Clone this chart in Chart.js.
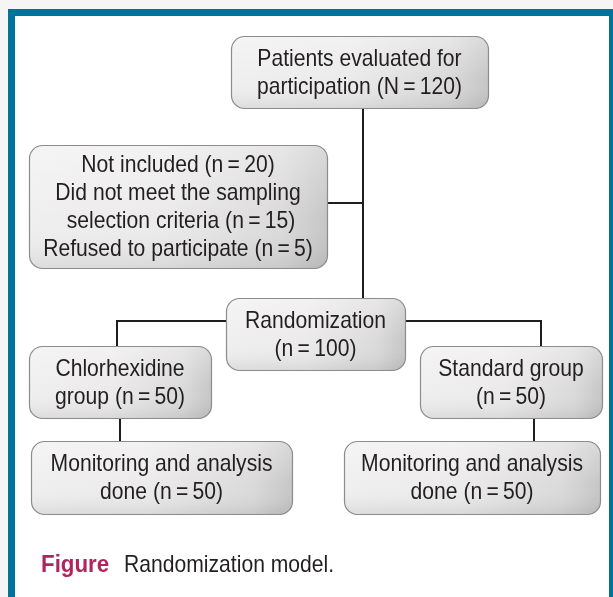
<!DOCTYPE html>
<html><head><meta charset="utf-8">
<script src="https://cdn.jsdelivr.net/npm/chart.js@4.4.1/dist/chart.umd.min.js"></script>
<style>html,body{margin:0;padding:0;background:#f5f5f5;}canvas{display:block}</style>
</head><body><canvas id="c" width="613" height="597"></canvas>
<script>
// ---- data ----
const stages = ['Patients evaluated', 'Not included', 'Did not meet sampling criteria', 'Refused to participate',
                'Randomization', 'Chlorhexidine group', 'Standard group', 'Monitoring (chlorhexidine)', 'Monitoring (standard)'];
const counts = [120, 20, 15, 5, 100, 50, 50, 50, 50];
const eq = '\u2009=\u2009';
const boxTexts = [
  ['Patients evaluated for', 'participation (N' + eq + counts[0] + ')'],
  ['Not included (n' + eq + counts[1] + ')', 'Did not meet the sampling', ' selection criteria (n' + eq + counts[2] + ')', 'Refused to participate (n' + eq + counts[3] + ')'],
  ['Randomization', '(n' + eq + counts[4] + ')'],
  ['Chlorhexidine', 'group (n' + eq + counts[5] + ')'],
  ['Standard group', '(n' + eq + counts[6] + ')'],
  ['Monitoring and analysis', 'done (n' + eq + counts[7] + ')'],
  ['Monitoring and analysis', 'done (n' + eq + counts[8] + ')']
];
const captionLabel = 'Figure';
const captionText = 'Randomization model.';

// ---- layout (chart units) ----
const boxX0 = [231, 29, 226, 29, 420, 31, 344];
const boxX1 = [488, 327, 405, 211, 602, 292, 600];
const boxY0 = [36, 145, 298, 346, 346, 441, 441];
const boxY1 = [108, 268, 370, 418, 418, 514, 514];

const trunkX = 363, branchY = 321, sideY = 203;
const connectors = [
  [{x: trunkX, y: boxY1[0]}, {x: trunkX, y: boxY0[2]}],
  [{x: boxX1[1], y: sideY}, {x: trunkX, y: sideY}],
  [{x: boxX0[2], y: branchY}, {x: 117, y: branchY}, {x: 117, y: boxY0[3]}],
  [{x: boxX1[2], y: branchY}, {x: 541, y: branchY}, {x: 541, y: boxY0[4]}],
  [{x: 120, y: boxY1[3]}, {x: 120, y: boxY0[5]}],
  [{x: 534, y: boxY1[4]}, {x: 534, y: boxY0[6]}]
];

const FONT = '"Liberation Sans", Arial, Helvetica, sans-serif';

function narrowText(ctx, t, x, y, align, sx) {
  ctx.save();
  ctx.translate(x, y);
  ctx.scale(sx, 1);
  ctx.textAlign = align;
  ctx.fillText(t, 0, 0);
  ctx.restore();
}

const framePlugin = {
  id: 'frame',
  beforeDraw(chart) {
    const ctx = chart.ctx;
    ctx.save();
    ctx.fillStyle = '#f5f5f5';
    ctx.fillRect(0, 0, chart.width, chart.height);
    ctx.fillStyle = '#00739a';
    ctx.fillRect(8, 9, chart.width - 8, chart.height - 9);
    ctx.fillStyle = '#ffffff';
    ctx.fillRect(15, 16, chart.width - 4 - 15, chart.height - 16);
    ctx.restore();
  }
};

const boxPlugin = {
  id: 'boxes',
  afterDatasetsDraw(chart) {
    const ctx = chart.ctx, xs = chart.scales.x, ys = chart.scales.y;
    ctx.save();
    for (let i = 0; i < boxTexts.length; i++) {
      const x0 = xs.getPixelForValue(boxX0[i]), x1 = xs.getPixelForValue(boxX1[i]);
      const y0 = ys.getPixelForValue(boxY0[i]), y1 = ys.getPixelForValue(boxY1[i]);
      const w = x1 - x0, h = y1 - y0;
      ctx.beginPath();
      ctx.roundRect(x0 + 0.5, y0 + 0.5, w, h, 13);
      const g = ctx.createLinearGradient(x0, 0, x1, 0);
      g.addColorStop(0, '#efefef');
      g.addColorStop(0.45, '#ebebeb');
      g.addColorStop(0.85, '#dadada');
      g.addColorStop(1, '#c6c6c6');
      ctx.fillStyle = g;
      ctx.fill();
      const gv = ctx.createLinearGradient(0, y0, 0, y1);
      gv.addColorStop(0, 'rgba(255,255,255,0.35)');
      gv.addColorStop(0.6, 'rgba(255,255,255,0)');
      gv.addColorStop(1, 'rgba(0,0,0,0.08)');
      ctx.fillStyle = gv;
      ctx.fill();
      ctx.lineWidth = 1.2;
      ctx.strokeStyle = '#8c8c8c';
      ctx.stroke();
      const lines = boxTexts[i];
      const lh = 28;
      ctx.fillStyle = '#231f20';
      ctx.font = '24px ' + FONT;
      ctx.textBaseline = 'middle';
      const mid = (y0 + y1) / 2;
      lines.forEach((t, k) => {
        narrowText(ctx, t, (x0 + x1) / 2, mid + (k - (lines.length - 1) / 2) * lh + 1, 'center', 0.88);
      });
    }
    // caption
    ctx.textBaseline = 'alphabetic';
    ctx.font = 'bold 24px ' + FONT;
    ctx.fillStyle = '#b3245f';
    narrowText(ctx, captionLabel, 41, 572, 'left', 0.93);
    ctx.font = '24px ' + FONT;
    ctx.fillStyle = '#231f20';
    narrowText(ctx, captionText, 124, 572, 'left', 0.88);
    ctx.restore();
  }
};

new Chart(document.getElementById('c'), {
  type: 'scatter',
  data: {
    datasets: connectors.map((pts, i) => ({
      label: 'link' + i,
      data: pts,
      showLine: true,
      borderColor: '#1e1e1e',
      borderWidth: 2,
      pointRadius: 0,
      fill: false,
      tension: 0
    }))
  },
  options: {
    responsive: false,
    animation: false,
    events: [],
    layout: {padding: 0},
    plugins: {legend: {display: false}, tooltip: {enabled: false}},
    scales: {
      x: {type: 'linear', min: 0, max: 613, display: false},
      y: {type: 'linear', min: 0, max: 597, reverse: true, display: false}
    }
  },
  plugins: [framePlugin, boxPlugin]
});
</script>
</body></html>
